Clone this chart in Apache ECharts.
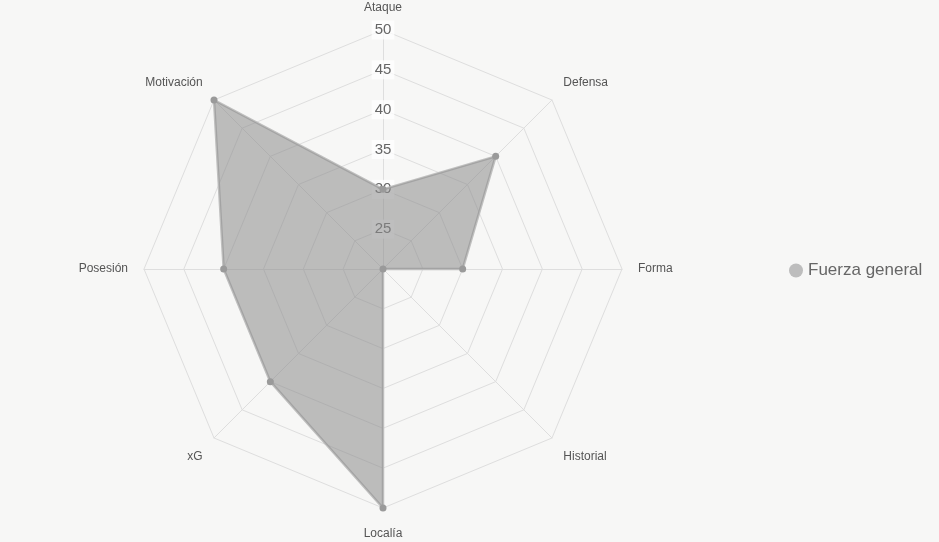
<!DOCTYPE html>
<html>
<head>
<meta charset="utf-8">
<script src="https://cdn.jsdelivr.net/npm/echarts@6/dist/echarts.min.js"></script>
<style>
  html, body { margin: 0; padding: 0; background: #f7f7f6; }
  #radar { width: 939px; height: 542px; }
</style>
</head>
<body>
<div id="radar"></div>
<script>
// ejes en el orden de ECharts (antihorario desde arriba)
const indicators = ['Ataque', 'Motivación', 'Posesión', 'xG', 'Localía', 'Historial', 'Forma', 'Defensa']
const values = [30, 50, 40, 40, 50, 20, 30, 40]
const seriesName = 'Fuerza general'
const axisMin = 20
const axisMax = 50
const axisStep = 5

const chart = echarts.init(document.getElementById('radar'))
const font = "'Liberation Sans', Arial, sans-serif"
const upNames = ['Motivación', 'Defensa']
const downNames = ['xG', 'Historial']

const options = {
  backgroundColor: '#f7f7f6',
  legend: {
    data: [seriesName],
    left: 784,
    top: 257,
    icon: 'circle',
    itemWidth: 14,
    itemHeight: 14,
    itemStyle: { color: '#bdbdbd' },
    textStyle: {
      color: '#666',
      fontSize: 17,
      fontFamily: font
    }
  },
  radar: {
    center: [383, 269],
    radius: 239,
    splitNumber: 6,
    shape: 'polygon',
    nameGap: 16,
    axisName: {
      color: '#555',
      fontSize: 12,
      fontFamily: font,
      formatter: function (name) {
        if (upNames.indexOf(name) >= 0) return '{up|' + name + '}'
        if (downNames.indexOf(name) >= 0) return '{down|' + name + '}'
        if (name === 'Localía') return '{bottom|' + name + '}'
        return name
      },
      rich: {
        up: { padding: [0, 0, 12, 0], color: '#555', fontSize: 12, fontFamily: font },
        down: { padding: [15, 0, 0, 0], color: '#555', fontSize: 12, fontFamily: font },
        bottom: { padding: [4, 0, 0, 0], color: '#555', fontSize: 12, fontFamily: font }
      }
    },
    indicator: indicators.map(name => ({
      name: name,
      min: axisMin,
      max: axisMax
    })),
    axisLine: {
      lineStyle: { color: '#dedede' }
    },
    splitLine: {
      lineStyle: { color: '#dedede', width: 1 }
    },
    splitArea: { show: false },
    axisLabel: { show: false }
  },
  // eje radial solo para las etiquetas de escala sobre "Ataque"
  polar: {
    center: [383, 269],
    radius: 239
  },
  angleAxis: {
    show: false,
    startAngle: 90,
    min: 0,
    max: 360
  },
  radiusAxis: {
    min: axisMin,
    max: axisMax,
    interval: axisStep,
    z: 1,
    axisLine: { show: false },
    axisTick: { show: false },
    splitLine: { show: false },
    axisLabel: {
      showMinLabel: false,
      margin: 0,
      align: 'center',
      verticalAlign: 'middle',
      color: '#666',
      fontSize: 15,
      fontFamily: font,
      backgroundColor: 'rgba(255,255,255,0.75)',
      padding: [2, 3]
    }
  },
  series: [
    {
      name: seriesName,
      type: 'radar',
      z: 3,
      symbol: 'circle',
      symbolSize: 7,
      itemStyle: { color: '#9a9a9a' },
      lineStyle: { color: 'rgba(185,185,185,0.9)', width: 2.5 },
      areaStyle: { color: 'rgba(140,140,140,0.56)', opacity: 1 },
      data: [{ value: values, name: seriesName }]
    }
  ]
}

chart.setOption(options, true)
</script>
</body>
</html>
